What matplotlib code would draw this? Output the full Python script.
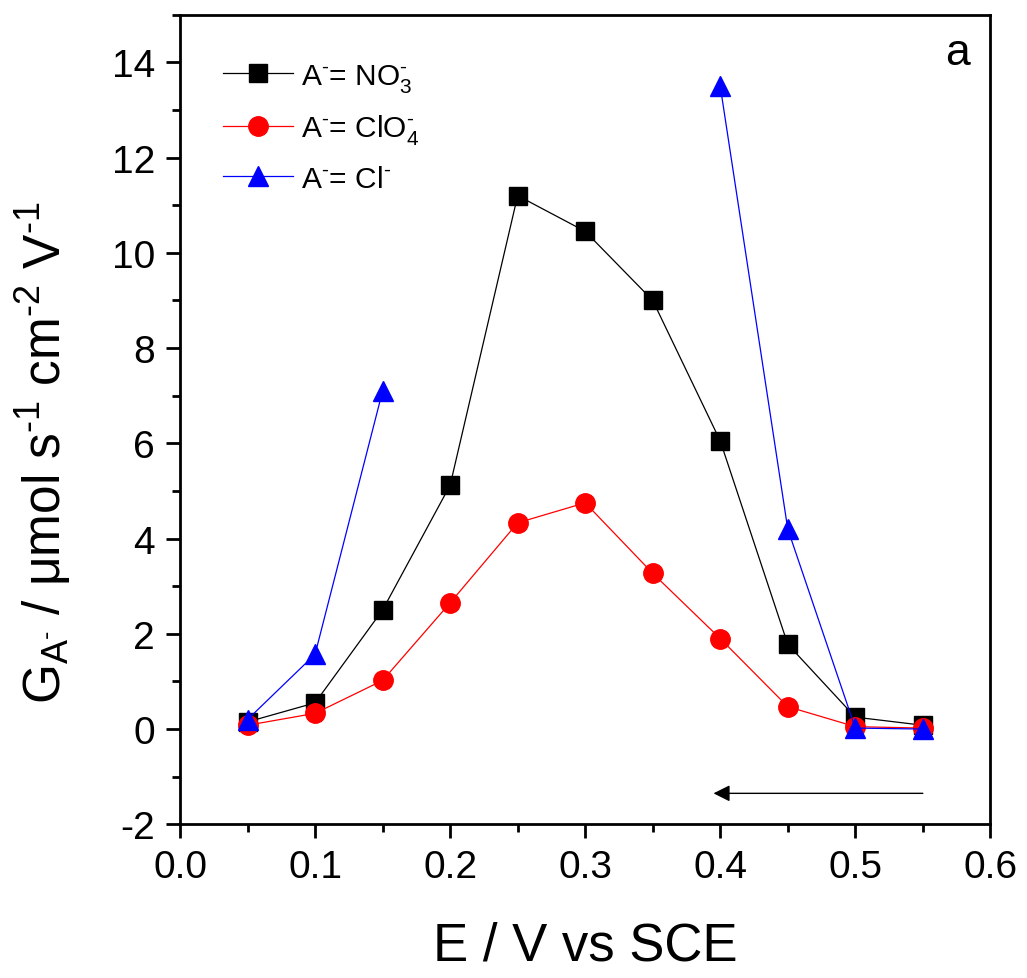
import numpy as np
import matplotlib
matplotlib.use("Agg")
from matplotlib import pyplot as plt
from matplotlib.ticker import MultipleLocator

plt.rcParams['font.family'] = ['Liberation Sans', 'DejaVu Sans']
plt.rcParams['mathtext.fontset'] = 'custom'
plt.rcParams['mathtext.rm'] = 'Liberation Sans'
plt.rcParams['mathtext.it'] = 'Liberation Sans'
plt.rcParams['mathtext.default'] = 'regular'
plt.rcParams['axes.unicode_minus'] = False

#%% data
E = [0.05, 0.10, 0.15, 0.20, 0.25, 0.30, 0.35, 0.40, 0.45, 0.50, 0.55]
g_no3 = [0.15, 0.55, 2.50, 5.12, 11.20, 10.45, 9.00, 6.05, 1.78, 0.25, 0.08]
g_clo4 = [0.08, 0.33, 1.02, 2.65, 4.33, 4.75, 3.27, 1.90, 0.47, 0.05, 0.02]
g_cl = [0.20, 1.57, 7.10, np.nan, np.nan, np.nan, np.nan, 13.50, 4.20, 0.02, 0.00]

h = '\u2010'  # short hyphen used as superscript minus in the original
labels = [r'A$^{%s}$= NO$_3^{%s}$' % (h, h), r'A$^{%s}$= ClO$_4^{%s}$' % (h, h), r'A$^{%s}$= Cl$^{%s}$' % (h, h)]

#%%
fig = plt.figure(figsize=(10.27, 9.79), dpi=100)
ax = fig.add_axes([0.1753, 0.157, 0.789, 0.827])

ax.plot(E, g_no3, '-s', color='black', lw=0.9, ms=13, label=labels[0])
ax.plot(E, g_clo4, '-o', color='red', mfc='red', mec='red', lw=0.9, ms=14, label=labels[1])
ax.plot(E, g_cl, '-^', color='blue', lw=0.9, ms=15, label=labels[2])

ax.annotate('', xy=(0.395, -1.35), xytext=(0.55, -1.35),
            arrowprops=dict(arrowstyle='-|>', color='black', lw=1.0,
                            mutation_scale=25, shrinkA=0, shrinkB=0))

ax.text(0.975, 0.978, 'a', transform=ax.transAxes, ha='right', va='top', fontsize=32)

ax.set_xlim(0.0, 0.6)
ax.set_ylim(-2, 15)
ax.xaxis.set_minor_locator(MultipleLocator(0.05))
ax.yaxis.set_minor_locator(MultipleLocator(1))
ax.set_xticks(np.arange(0, 0.61, 0.1))
ax.set_xticklabels(['%.1f' % v for v in np.arange(0, 0.61, 0.1)])
ax.set_yticks(np.arange(-2, 15, 2))

ax.tick_params(which='both', direction='out', width=2, labelsize=28, top=False, right=False)
ax.tick_params(which='major', length=10, pad=8)
ax.tick_params(which='minor', length=6)
for s in ax.spines.values():
    s.set_linewidth(2)

ax.set_xlabel('E / V vs SCE', fontsize=38, labelpad=25)
ax.set_ylabel(r'G$_{A^{%s}}$ / $\mu$mol s$^{%s1}$ cm$^{%s2}$ V$^{%s1}$' % (h, h, h, h),
              fontsize=37)
ax.yaxis.set_label_coords(-0.132, 0.46)

ax.legend(loc='upper left', bbox_to_anchor=(0.02, 0.975), frameon=False, fontsize=21.5,
          handlelength=2.35, handletextpad=0.25, labelspacing=0.62, numpoints=1)

fig.savefig('out.png', dpi=100)
